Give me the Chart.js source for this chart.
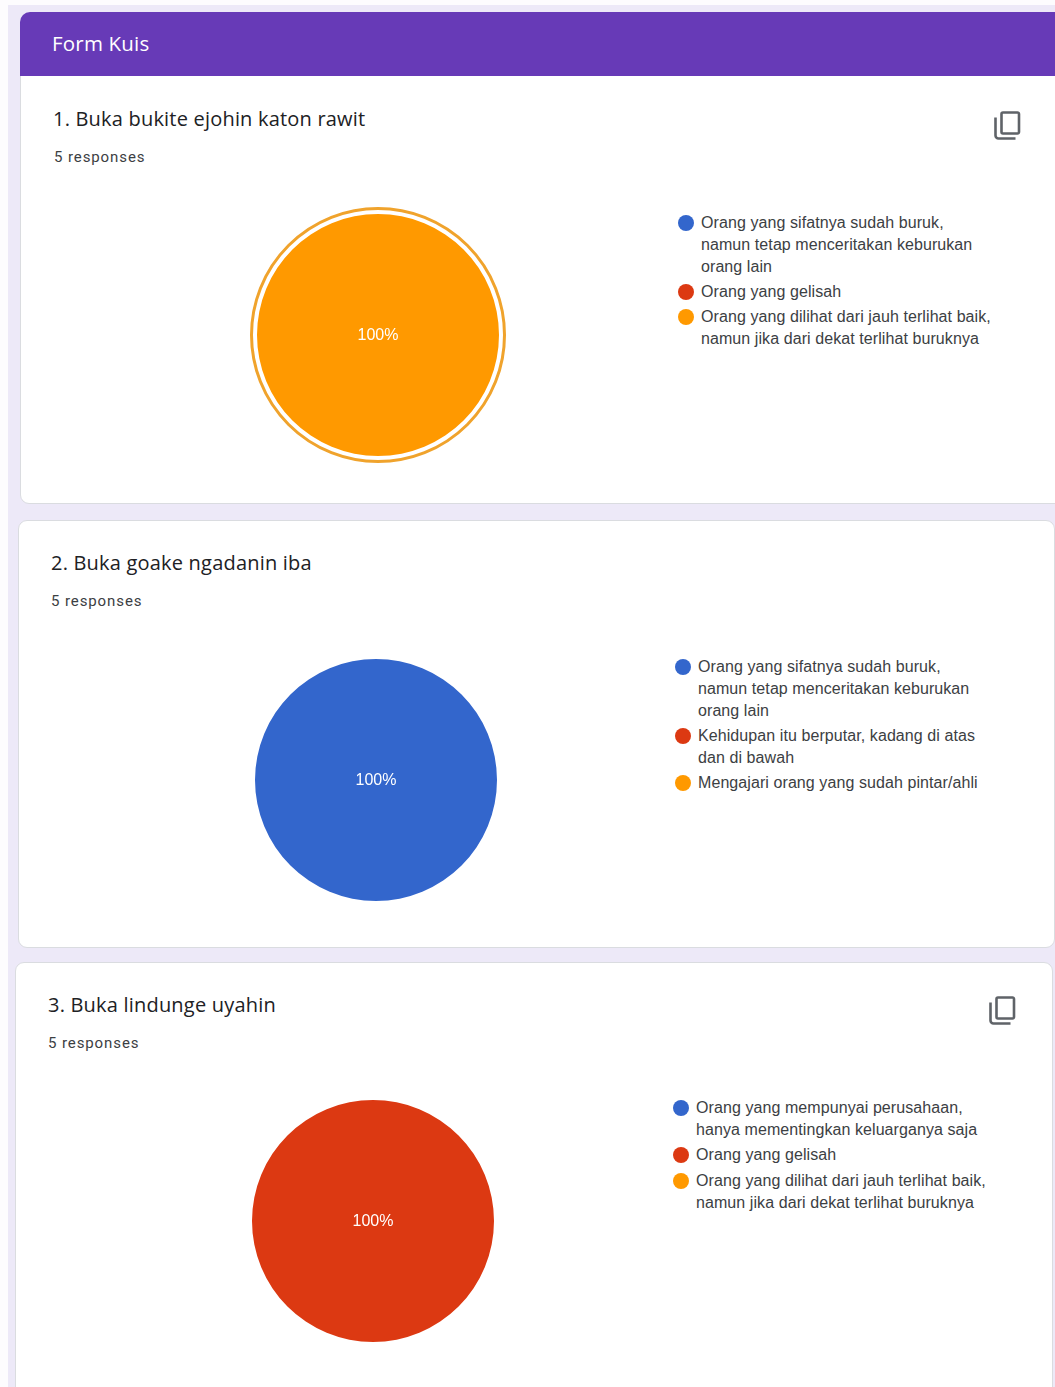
<!DOCTYPE html>
<html lang="id">
<head>
<meta charset="utf-8">
<title>Form Kuis</title>
<script src="https://cdn.jsdelivr.net/npm/chart.js@4"></script>
<style>
	html, body { margin: 0; padding: 0; }
	body { position: relative; width: 1055px; height: 1387px; overflow: hidden; background: #ede9f8; }
	.strip { position: absolute; left: 0; top: 0; background: #fdfcfe; }
	.header { position: absolute; left: 20px; top: 12px; width: 1060px; height: 64px; background: #673ab7; border-radius: 10px 0 0 0; }
	.header span { position: absolute; left: 32px; top: 18px; color: #fff; font: 500 20.5px/26px "Open Sans", sans-serif; letter-spacing: 0.2px; }
	.card { position: absolute; box-sizing: border-box; background: #fff; border: 1px solid #dadce0; }
	.title { position: absolute; color: #202124; font: 400 20px/26px "Open Sans", sans-serif; letter-spacing: 0.2px; white-space: nowrap; }
	.count { position: absolute; color: #3c4043; font: 400 15px/20px Roboto, sans-serif; letter-spacing: 0.9px; white-space: nowrap; }
	canvas { position: absolute; }
	.legend { position: absolute; margin: 0; padding: 0; list-style: none; color: #3c4043; font: 400 16px/22px "Liberation Sans", Arial, sans-serif; letter-spacing: 0.08px; white-space: nowrap; }
	.legend li { position: relative; padding-left: 23px; margin-bottom: 3.4px; }
	.legend i { position: absolute; left: 0; top: 3px; width: 16px; height: 16px; border-radius: 50%; }
	svg.copy { position: absolute; width: 27px; height: 30px; fill: none; stroke: #5f6368; stroke-width: 2.6; }
</style>
</head>
<body>
<div class="strip" style="width:1055px;height:5px"></div>
<div class="strip" style="width:8px;height:1387px"></div>
<div class="card" style="left:20px;top:70px;width:1060px;height:434px;border-radius:0 0 0 9px"></div>
<div class="header"><span>Form Kuis</span></div>
<div class="card" style="left:18px;top:520px;width:1037px;height:428px;border-radius:9px"></div>
<div class="card" style="left:15px;top:962px;width:1038px;height:440px;border-radius:9px 9px 0 0"></div>

<div class="title" style="left:53px;top:106px">1. Buka bukite ejohin katon rawit</div>
<div class="count" style="left:54px;top:147px">5 responses</div>
<div class="title" style="left:51px;top:550px">2. Buka goake ngadanin iba</div>
<div class="count" style="left:51px;top:591px">5 responses</div>
<div class="title" style="left:48px;top:992px">3. Buka lindunge uyahin</div>
<div class="count" style="left:48px;top:1033px">5 responses</div>

<svg class="copy" style="left:994px;top:110px" viewBox="0 0 27 30"><path d="M9 2.5h14.5a1.5 1.5 0 0 1 1.500 1.500v18a1.500 1.500 0 0 1 -1.500 1.500h-14.500a1.500 1.500 0 0 1 -1.500 -1.500v-18a1.500 1.500 0 0 1 1.500 -1.500z"/><path d="M1.500 7.500v18a3 3 0 0 0 3 3h17"/></svg>
<svg class="copy" style="left:989px;top:995px" viewBox="0 0 27 30"><path d="M9 2.5h14.5a1.5 1.5 0 0 1 1.500 1.500v18a1.500 1.500 0 0 1 -1.500 1.500h-14.500a1.500 1.500 0 0 1 -1.500 -1.500v-18a1.500 1.500 0 0 1 1.500 -1.500z"/><path d="M1.500 7.500v18a3 3 0 0 0 3 3h17"/></svg>

<canvas id="pie1" width="300" height="300" style="left:228px;top:185px"></canvas>
<canvas id="pie2" width="300" height="300" style="left:226px;top:630px"></canvas>
<canvas id="pie3" width="300" height="300" style="left:223px;top:1071px"></canvas>
<ul id="legend1" class="legend" style="left:678px;top:211.500px"></ul>
<ul id="legend2" class="legend" style="left:675px;top:655.500px"></ul>
<ul id="legend3" class="legend" style="left:673px;top:1097px"></ul>

<script>
var categories1 = [
	['Orang yang sifatnya sudah buruk,', 'namun tetap menceritakan keburukan', 'orang lain'],
	['Orang yang gelisah'],
	['Orang yang dilihat dari jauh terlihat baik,', 'namun jika dari dekat terlihat buruknya']
];
var categories2 = [
	['Orang yang sifatnya sudah buruk,', 'namun tetap menceritakan keburukan', 'orang lain'],
	['Kehidupan itu berputar, kadang di atas', 'dan di bawah'],
	['Mengajari orang yang sudah pintar/ahli']
];
var categories3 = [
	['Orang yang mempunyai perusahaan,', 'hanya mementingkan keluarganya saja'],
	['Orang yang gelisah'],
	['Orang yang dilihat dari jauh terlihat baik,', 'namun jika dari dekat terlihat buruknya']
];

var responses1 = [0, 0, 5];
var responses2 = [5, 0, 0];
var responses3 = [0, 5, 0];

var sliceColors = ['#3366cc', '#dc3912', '#ff9900'];

/* Writes the percentage of each slice in white, in the centre when it fills the pie. */
var percentLabels = {
	id: 'percentLabels',
	afterDatasetsDraw: function(chart) {
		var ctx = chart.ctx;
		var values = chart.data.datasets[0].data;
		var total = values.reduce(function(a, b) { return a + b; }, 0);
		chart.getDatasetMeta(0).data.forEach(function(arc, i) {
			if (!values[i]) return;
			var share = values[i] / total;
			var pos = share === 1 ? { x: arc.x, y: arc.y } : arc.tooltipPosition();
			ctx.save();
			ctx.fillStyle = '#fff';
			ctx.font = '16px "Liberation Sans", Arial, sans-serif';
			ctx.textAlign = 'center';
			ctx.textBaseline = 'middle';
			ctx.fillText(Math.round(share * 100) + '%', pos.x, pos.y + 1);
			ctx.restore();
		});
	}
};

/* Outline around a highlighted slice. */
var selectedRing = {
	id: 'selectedRing',
	afterDatasetsDraw: function(chart, args, options) {
		if (options.index === undefined) return;
		var arc = chart.getDatasetMeta(0).data[options.index];
		var ctx = chart.ctx;
		ctx.save();
		ctx.strokeStyle = options.color;
		ctx.lineWidth = options.width;
		ctx.beginPath();
		ctx.arc(arc.x, arc.y, arc.outerRadius + options.gap, 0, Math.PI * 2);
		ctx.stroke();
		ctx.restore();
	}
};

function criarPie(id, legendId, categories, responses, selected) {
	var chart = new Chart(document.getElementById(id).getContext('2d'), {
		type: 'pie',
		data: {
			labels: categories,
			datasets: [{
				data: responses,
				backgroundColor: sliceColors,
				borderWidth: 0,
				radius: 121
			}]
		},
		options: {
			responsive: false,
			animation: false,
			plugins: {
				legend: { display: false },
				tooltip: { enabled: false },
				selectedRing: selected === undefined ? {} : { index: selected, color: '#f0a32c', width: 3, gap: 5.5 }
			}
		},
		plugins: [percentLabels, selectedRing]
	});

	/* Legend is a list so that long labels can wrap on several lines. */
	var list = document.getElementById(legendId);
	chart.data.labels.forEach(function(lines, i) {
		var item = document.createElement('li');
		var dot = document.createElement('i');
		dot.style.background = sliceColors[i];
		item.appendChild(dot);
		lines.forEach(function(line, n) {
			if (n > 0) item.appendChild(document.createElement('br'));
			item.appendChild(document.createTextNode(line));
		});
		list.appendChild(item);
	});
}

criarPie('pie1', 'legend1', categories1, responses1, 2);
criarPie('pie2', 'legend2', categories2, responses2);
criarPie('pie3', 'legend3', categories3, responses3);
</script>
</body>
</html>
